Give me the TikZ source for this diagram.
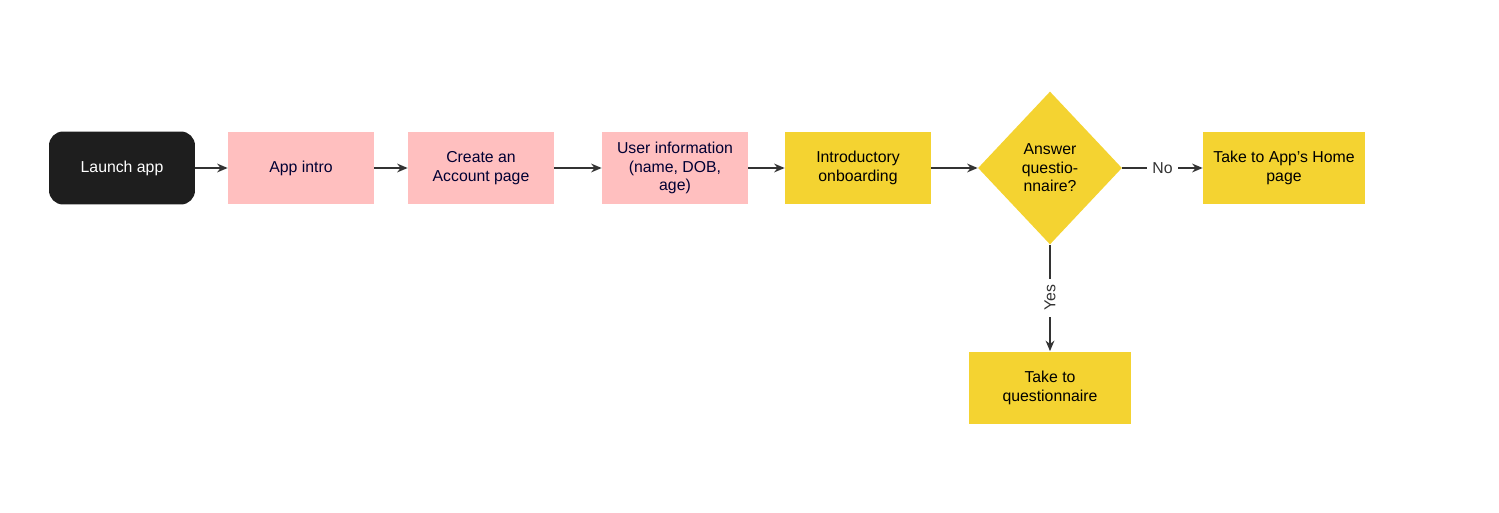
\documentclass[tikz,border=0pt]{standalone}
\usepackage{fontspec}
\setmainfont{Liberation Sans}
\usetikzlibrary{shapes.geometric,arrows.meta}
\definecolor{pinkbox}{HTML}{FFBFBF}
\definecolor{yellowbox}{HTML}{F4D331}
\definecolor{darkbox}{HTML}{1E1E1E}
\definecolor{lineclr}{HTML}{333333}
\begin{document}
\begin{tikzpicture}[x=0.02cm,y=-0.02cm,font=\fontsize{9}{10.5}\selectfont,
    box/.style={rectangle, minimum width=2.92cm, minimum height=1.46cm, align=center, inner sep=1pt},
    pinkstep/.style={box, fill=pinkbox, text=black!80!blue},
    yellowstep/.style={box, fill=yellowbox},
    arr/.style={-{Stealth[length=6pt,width=5pt]}, lineclr, line width=0.8pt}]
    \useasboundingbox (0,0) rectangle (1499,513);
        \node[box, fill=darkbox, text=white, rounded corners=8pt] (launch) at (122,168) {Launch app};
        \node[pinkstep] (intro) at (301,168) {App intro};
        \node[pinkstep] (account) at (481,168) {Create an\\Account page};
        \node[pinkstep] (userinfo) at (675,168) {User information\\(name, DOB,\\age)};
        \node[yellowstep] (onboard) at (858,168) {Introductory\\onboarding};
        \node[diamond, fill=yellowbox, minimum width=2.88cm, minimum height=3.06cm, inner sep=0pt, align=center] (answer) at (1050,168) {Answer\\questio-\\nnaire?};
        \node[yellowstep, minimum width=3.24cm] (home) at (1284,168) {Take to App's Home\\page};
        \node[yellowstep, minimum width=3.24cm] (quest) at (1050,388) {Take to\\questionnaire};

        \draw[arr] (launch) -- (intro);
        \draw[arr] (intro) -- (account);
        \draw[arr] (account) -- (userinfo);
        \draw[arr] (userinfo) -- (onboard);
        \draw[arr] (onboard) -- (answer);
        \draw[arr] (answer) -- node[fill=white, text=lineclr] {No} (home);
        \draw[arr] (answer) -- node[fill=white, text=lineclr, rotate=90] {Yes} (quest);
\end{tikzpicture}
\end{document}
